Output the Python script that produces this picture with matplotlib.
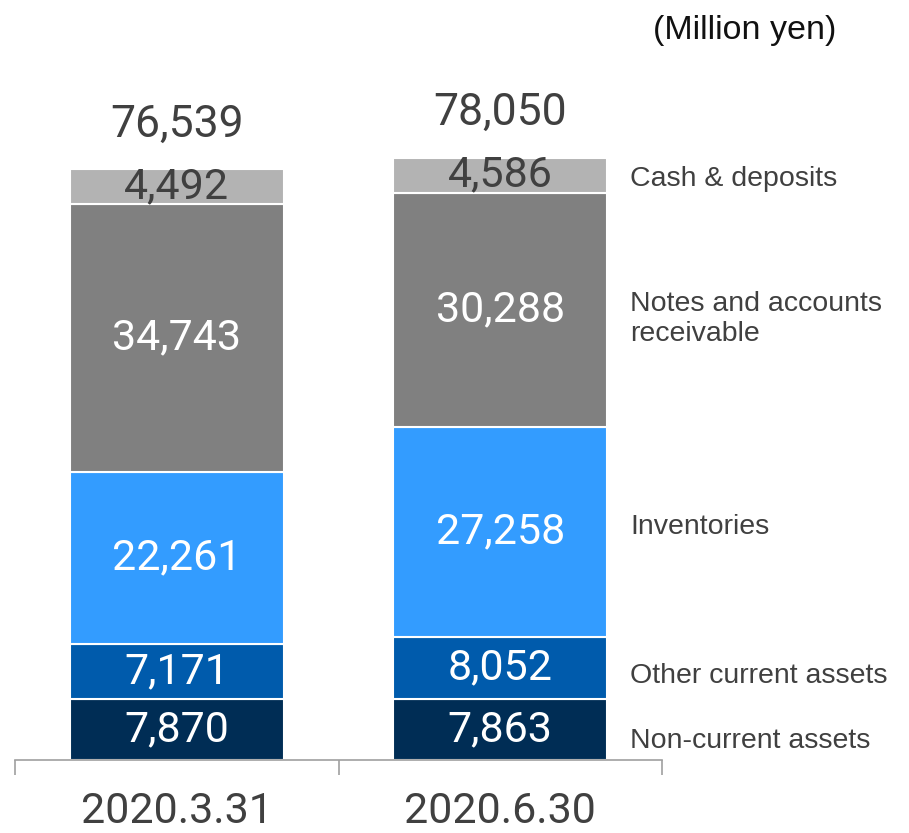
import matplotlib.pyplot as plt

plt.rcParams['font.family'] = ['Roboto', 'DejaVu Sans']

dates = ["2020.3.31", "2020.6.30"]
items = ["Non-current assets", "Other current assets", "Inventories",
         "Notes and accounts\nreceivable", "Cash & deposits"]
non_current = [7870, 7863]
other_current = [7171, 8052]
inventories = [22261, 27258]
receivables = [34743, 30288]
cash = [4492, 4586]
totals = [76539, 78050]

colors = ["#002d55", "#005bac", "#339cff", "#808080", "#b3b3b3"]
text_colors = ["white", "white", "white", "white", "#404040"]
label_shift = [-6, -3, 6, -4, 0]  # small vertical nudges (points) for side labels

fig = plt.figure(figsize=(9.09, 8.33), dpi=100)
ax = fig.add_axes([15 / 909, 1 - 760 / 833, 647 / 909, 660 / 833])

x = [0, 1]
bottom = [0, 0]
series = [non_current, other_current, inventories, receivables, cash]
for vals, c, tc, name, dy in zip(series, colors, text_colors, items, label_shift):
    ax.bar(x, vals, bottom=bottom, width=0.66, color=c, edgecolor="white", linewidth=1.5)
    for i in x:
        ax.text(i, bottom[i] + vals[i] / 2, f"{vals[i]:,}", ha="center", va="center",
                fontsize=31, color=tc)
    # label beside the second bar
    ax.annotate(name, (1.401, bottom[1] + vals[1] / 2), xytext=(0, dy - 2.5),
                textcoords="offset points", ha="left", va="center",
                fontsize=20.5, color="#404040", linespacing=1.2,
                family="Liberation Sans", annotation_clip=False)
    bottom = [b + v for b, v in zip(bottom, vals)]

for i in x:
    ax.annotate(f"{totals[i]:,}", (i, totals[i]), xytext=(0, 17), textcoords="offset points",
                ha="center", va="bottom", fontsize=32, color="#404040")

fig.text(745 / 909, 1 - 30 / 833, "(Million yen)", ha="center", va="center",
         fontsize=24.5, color="#111111", family="Liberation Sans")

ax.set_xlim(-0.5, 1.5)
ax.set_ylim(0, 85500)
for s in ["top", "right", "left"]:
    ax.spines[s].set_visible(False)
ax.spines["bottom"].set_color("#a0a0a0")
ax.spines["bottom"].set_linewidth(1.2)
ax.set_yticks([])
ax.set_xticks(x)
ax.set_xticklabels(dates, fontsize=31, color="#404040")
ax.tick_params(axis="x", length=0, pad=22)
ax.set_xticks([-0.5, 0.5, 1.5], minor=True)
ax.tick_params(axis="x", which="minor", length=11, color="#a0a0a0", width=1.2)

fig.savefig("out.png", dpi=100)
